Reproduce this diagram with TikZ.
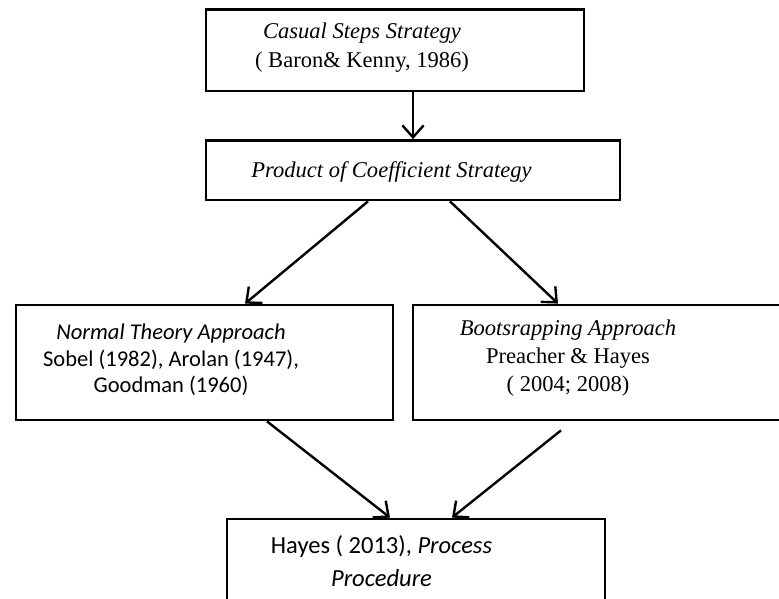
\documentclass[tikz,border=0pt]{standalone}
\usepackage{fontspec}
\setmainfont{Liberation Serif}
\newfontfamily\calibri{Carlito}
\usetikzlibrary{arrows.meta,positioning,calc}

\tikzset{
  box/.style={draw, line width=2.1pt, inner sep=0pt},
  arr/.style={-{Straight Barb[length=9pt,width=16pt,line width=1.8pt]}, line width=1.8pt},
  txt/.style={align=center, inner sep=0pt, font=\fontsize{16.9}{21}\selectfont},
}

\begin{document}
\begin{tikzpicture}[x=0.75pt,y=-0.75pt]
\useasboundingbox (0,0) rectangle (779,599);
% boxes
\node[box, minimum width=283.5pt, minimum height=61pt] (casual) at (395,50.25) {};
\node[box, minimum width=310.5pt, minimum height=44.6pt] (product) at (413,170.25) {};
\node[box, minimum width=282.75pt, minimum height=86.25pt] (normal) at (204.5,362.5) {};
\node[box, minimum width=279pt, minimum height=86.25pt] (boot) at (599,362.5) {};
\node[box, minimum width=283.5pt, minimum height=90.75pt] (hayes) at (416,579.5) {};
% texts
\node[txt, font=\fontsize{16.9}{21.75}\selectfont] (casualtxt) at (362,47.5)
  {\textit{Casual Steps Strategy}\\( Baron\& Kenny, 1986)};
\node[txt] (producttxt) at (391.5,172) {\textit{Product of Coefficient Strategy}};
\node[txt, font=\calibri\fontsize{16.9}{19.9}\selectfont] (normaltxt) at (171,360)
  {\textit{Normal Theory Approach}\\Sobel (1982), Arolan (1947),\\Goodman (1960)};
\node[txt] (boottxt) at (568,358)
  {\textit{Bootsrapping Approach}\\Preacher \& Hayes\\( 2004; 2008)};
\node[txt, font=\calibri\fontsize{18.4}{24.75}\selectfont] (hayestxt) at (381.5,561)
  {Hayes ( 2013), \textit{Process}\\\textit{Procedure}};
% arrows
\draw[arr] ([xshift=13.5pt]casual.south) -- (product.north);
\draw[arr] ([xshift=-33.75pt]product.south) -- ([xshift=30.4pt]normal.north);
\draw[arr] ([xshift=27.75pt]product.south) -- ([xshift=-30.75pt]boot.north);
\draw[arr] ([xshift=46.9pt]normal.south) -- ([xshift=-19.5pt]hayes.north);
\draw[arr] ([xshift=-28.5pt,yshift=-6.75pt]boot.south) -- ([xshift=27pt]hayes.north);
\end{tikzpicture}
\end{document}
